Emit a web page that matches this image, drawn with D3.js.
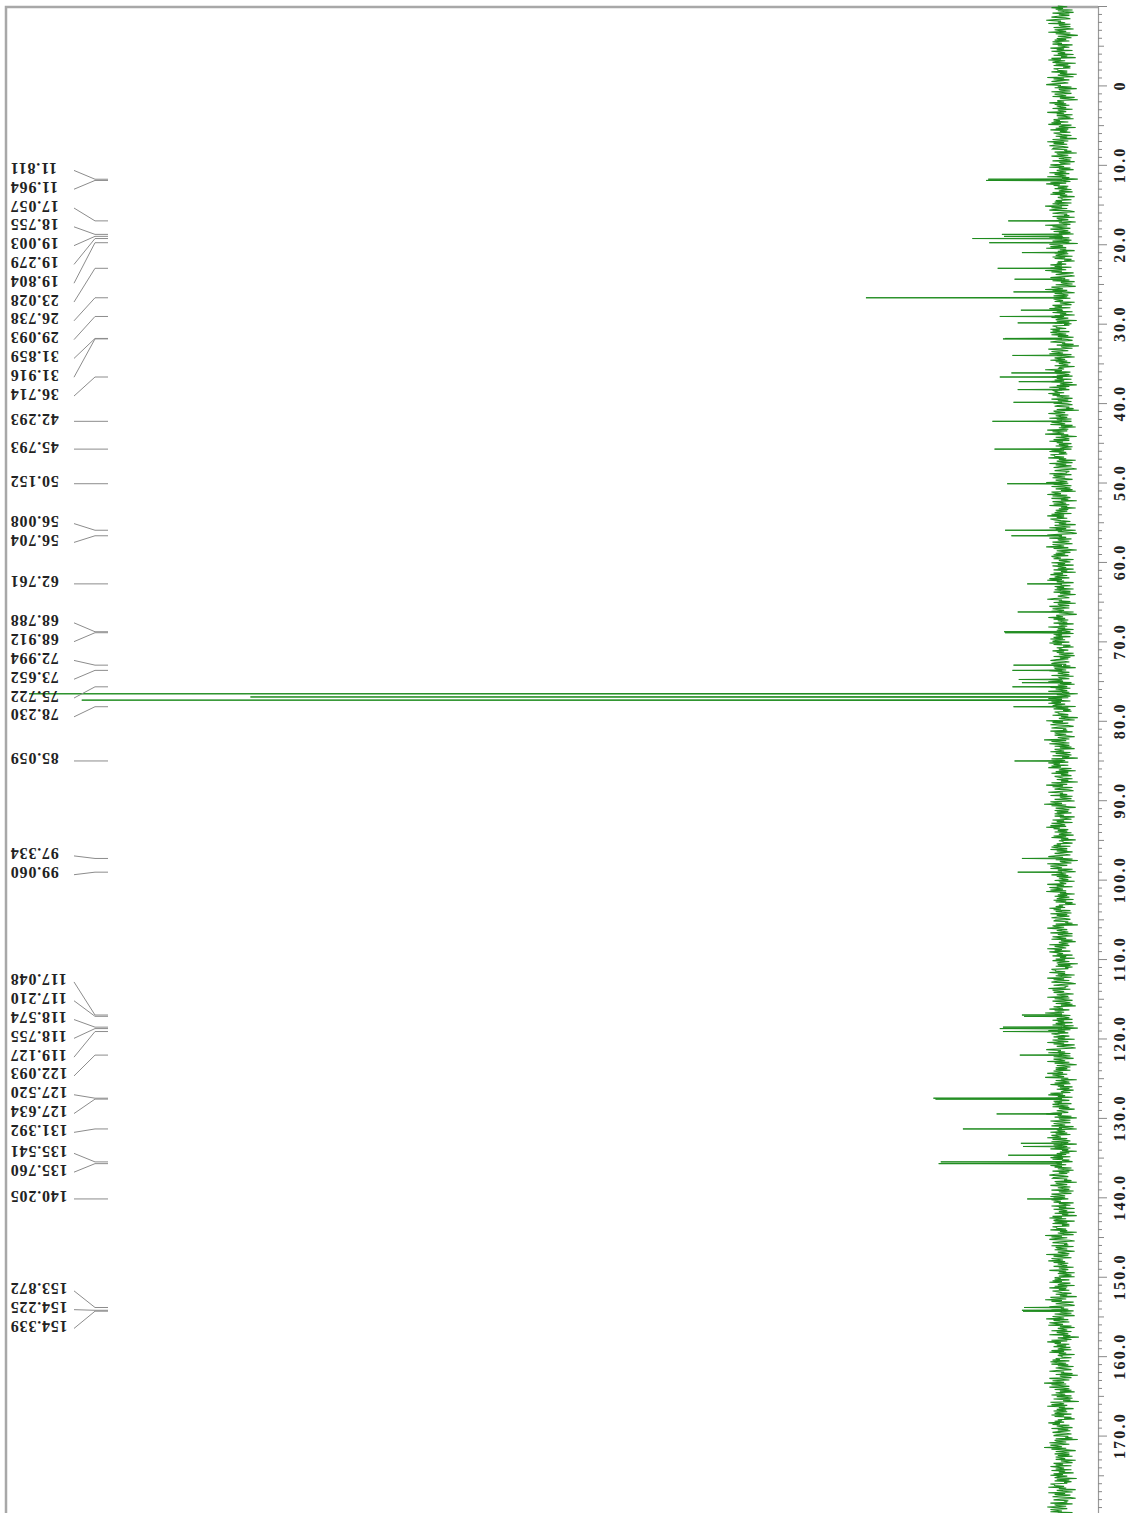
<!DOCTYPE html>
<meta charset="utf-8">
<head>
	<title>13C NMR</title>
</head>
<style>
body {
	margin: 0;
	background: #fff;
}
svg {
	display: block;
}
.frame {
	stroke: #a8a8a8;
	stroke-width: 2.5;
	fill: none;
}
.spec {
	fill: none;
	stroke: #1f8c1f;
	stroke-width: 1;
}
.noise {
	stroke-width: 1.1;
}
.lbl-line {
	fill: none;
	stroke: #8c8c8c;
	stroke-width: 1;
}
.lbl {
	font-family: "Liberation Serif", serif;
	font-weight: bold;
	font-size: 16px;
	letter-spacing: 0.8px;
	fill: #222;
}
.axis-lbl {
	font-family: "Liberation Serif", serif;
	font-weight: bold;
	font-size: 16px;
	letter-spacing: 2.2px;
	fill: #222;
}
</style>
<body>
<svg width="1137" height="1513"></svg>

<script src="https://cdnjs.cloudflare.com/ajax/libs/d3/7.8.5/d3.min.js"></script>
<script>

// picked peaks (ppm) shown as labels
var labelPpm = [11.811, 11.964, 17.057, 18.755, 19.003, 19.279, 19.804, 23.028, 26.738, 29.093,
	31.859, 31.916, 36.714, 42.293, 45.793, 50.152, 56.008, 56.704, 62.761, 68.788, 68.912,
	72.994, 73.652, 75.722, 78.230, 85.059, 97.334, 99.060, 117.048, 117.210, 118.574, 118.755,
	119.127, 122.093, 127.520, 127.634, 131.392, 135.541, 135.760, 140.205, 153.872, 154.225, 154.339];

// all lines of the spectrum: position (ppm) and relative height
var peakPpm = [11.811, 11.964, 17.057, 18.755, 19.003, 19.279, 19.804, 21.05, 23.028, 24.4,
	26.0, 26.738, 28.3, 29.093, 29.9, 31.859, 31.916, 34.0, 36.2, 36.714, 37.3, 38.3, 39.9,
	42.293, 45.793, 50.152, 56.008, 56.704, 62.761, 66.3, 68.788, 68.912, 72.994, 73.652, 74.8,
	75.2, 75.722, 76.6, 77.0, 77.4, 78.230, 85.059, 97.334, 99.060, 117.048, 117.210, 118.574,
	118.755, 119.127, 122.093, 127.520, 127.634, 129.5, 131.392, 133.2, 133.6, 134.7, 135.541,
	135.760, 140.205, 153.872, 154.225, 154.339];
var peakHeight = [7.0, 7.2, 5.1, 5.7, 5.5, 8.5, 6.9, 3.8, 6.1, 4.5,
	4.6, 18.6, 3.9, 5.9, 4.2, 5.4, 5.6, 4.7, 4.8, 5.9, 4.1, 4.2, 4.6,
	6.6, 6.4, 5.2, 5.4, 4.8, 3.3, 4.2, 5.5, 5.4, 4.6, 4.7, 4.1,
	3.8, 4.7, 98, 77, 93, 4.6, 4.5, 3.8, 4.2, 3.8, 3.6, 5.6,
	5.9, 5.6, 4.0, 12.2, 12.0, 6.2, 9.4, 3.9, 3.7, 5.1, 11.5,
	11.7, 3.3, 3.6, 3.8, 3.7];

// baseline noise pattern, as seen along the trace
var noise = [0.3, -0.6, 0.9, -0.2, 0.5, -1.1, 0.7, 0.1, -0.8, 1.2, -0.4, 0.6, -0.9, 0.2, 0.8,
	-0.5, -1.0, 0.4, 1.1, -0.3, 0.0, -0.7, 0.9, -1.2, 0.5, 0.3, -0.6, 1.0, -0.1, -0.9, 0.7, 0.2,
	-0.4, 1.3, -0.8, 0.6, -0.2, -1.1, 0.8, 0.1, -0.5, 0.9, -0.7, 0.4, -1.0, 0.6, 0.2, -0.3, 1.0,
	-0.9, 0.5, -0.1, -0.6, 1.2, -0.4, 0.3, -1.2, 0.8, 0.0, -0.5, 0.7, -0.8, 1.1, -0.2, 0.4, -1.0,
	0.6, -0.3, 0.9, -0.7, 0.2, 0.5, -1.1, 0.8, -0.4, 1.0, -0.6, 0.1, -0.9, 0.7, 0.3];
var drift = [0.1, -0.3, 0.2, 0.4, -0.2, 0.0, -0.4, 0.3, -0.1, 0.2, -0.3, 0.4, -0.2];

var axisTicks = d3.range(0, 180, 10);

var svg = d3.select('svg');

// ppm runs down the page, intensity grows to the left
var y = d3.scaleLinear().domain([-10, 180]).range([6, 1515]);
var x = d3.scaleLinear().domain([0, 100]).range([1062, 8]);

// frame
svg.append('path')
	.attr('class', 'frame')
	.attr('d', 'M6,1513V7H1098');

// axis on the right
var axis = d3.axisRight(y)
	.tickValues(d3.range(-10, 181, 1))
	.tickSize(4)
	.tickFormat('');
var ax = svg.append('g')
	.attr('transform', 'translate(1098,0)')
	.call(axis);
ax.select('.domain').attr('stroke', '#999').attr('stroke-width', 1.2);
ax.selectAll('.tick line')
	.attr('stroke', '#888')
	.attr('x2', function(d) { return d % 10 === 0 ? 9 : (d % 5 === 0 ? 6 : 4); });

svg.selectAll('.axis-lbl')
	.data(axisTicks)
	.enter()
	.append('text')
	.attr('class', 'axis-lbl')
	.attr('x', 1120)
	.attr('y', function(d) { return y(d); })
	.attr('transform', function(d) { return 'rotate(-90,1120,' + y(d) + ')'; })
	.attr('text-anchor', 'middle')
	.attr('dominant-baseline', 'central')
	.text(function(d) { return d === 0 ? '0' : d.toFixed(1); });

// baseline noise trace
var noisePts = d3.range(0, 1905).map(function(i) {
	return [-10 + i * 0.1, noise[i % noise.length] + drift[Math.floor(i / 6) % drift.length]];
});
var line = d3.line()
	.x(function(d) { return x(d[1]); })
	.y(function(d) { return y(d[0]); });

svg.append('path')
	.attr('class', 'spec noise')
	.attr('d', line(noisePts));

// peaks
svg.selectAll('.peak')
	.data(peakPpm)
	.enter()
	.append('path')
	.attr('class', 'spec peak')
	.attr('d', function(d, i) {
		return line([[d - 0.05, 0], [d, peakHeight[i]], [d + 0.05, 0]]);
	});

// spread labels top-down: a crowded run is centred on its peaks,
// but never pushed above the run placed before it
var gap = 18.8;
var stack = [];
labelPpm.forEach(function(p, i) {
	var g = {first: i, n: 1, top: y(p)};
	var last = stack[stack.length - 1];
	if (last && last.top + last.n * gap > g.top) {
		stack.pop();
		var n = last.n + 1, s = 0;
		for (var j = 0; j < n; j++) s += y(labelPpm[last.first + j]) - j * gap;
		g = {first: last.first, n: n, top: s / n};
	}
	var prev = stack[stack.length - 1];
	if (prev) g.top = Math.max(g.top, prev.top + prev.n * gap);
	stack.push(g);
});
var labelY = [];
stack.forEach(function(g) {
	for (var j = 0; j < g.n; j++) labelY[g.first + j] = g.top + j * gap;
});

svg.selectAll('.lbl-line')
	.data(labelPpm)
	.enter()
	.append('path')
	.attr('class', 'lbl-line')
	.attr('d', function(d, i) {
		return 'M74,' + labelY[i] + 'L95,' + y(d) + 'H108';
	});

svg.selectAll('.lbl')
	.data(labelPpm)
	.enter()
	.append('text')
	.attr('class', 'lbl')
	.attr('x', 10)
	.attr('y', function(d, i) { return labelY[i] - 2; })
	.attr('transform', function(d, i) { return 'rotate(180,10,' + (labelY[i] - 2) + ')'; })
	.attr('text-anchor', 'end')
	.attr('dominant-baseline', 'central')
	.text(function(d) { return d.toFixed(3); });

</script>
</body>
